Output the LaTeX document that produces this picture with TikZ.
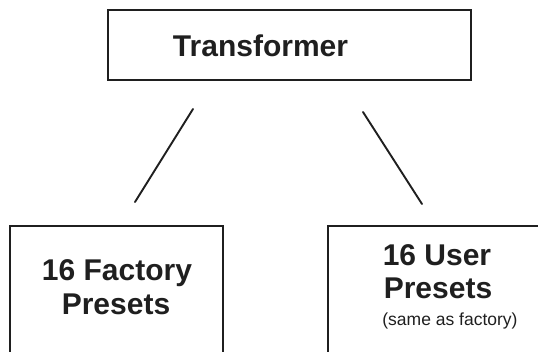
\documentclass[tikz,border=0pt]{standalone}
\usepackage{fontspec}
\setmainfont{Liberation Sans}
\begin{document}
\begin{tikzpicture}[x=1pt,y=-1pt,
  boxline/.style={draw=black!88, line width=2.6pt},
  conn/.style={draw=black!88, line width=1.9pt},
  bigtext/.style={font=\bfseries\fontsize{30}{34}\selectfont, inner sep=0pt, text=black!88},
  smalltext/.style={font=\fontsize{17.5}{20}\selectfont, inner sep=0pt, text=black!88}]
\useasboundingbox (0,0) rectangle (538,351);
% top box
\node[boxline, rectangle, minimum width=363pt, minimum height=70pt, inner sep=0pt] (top) at (289.5,45) {};
\node[bigtext, anchor=base] (ttxt) at (260.5,56.7) {Transformer};
% connectors
\coordinate (l1) at (193,109);
\coordinate (l2) at (135,202);
\coordinate (r1) at (363,112);
\coordinate (r2) at (422,204);
\draw[conn, line cap=round] (l1) -- (l2);
\draw[conn, line cap=round] (r1) -- (r2);
% bottom left box (open at bottom)
\coordinate (lb1) at (10,352);
\coordinate (lb2) at (10,226);
\coordinate (lb3) at (223,226);
\coordinate (lb4) at (223,352);
\draw[boxline] (lb1) -- (lb2) -- (lb3) -- (lb4);
\node[bigtext, anchor=base] (f1) at (117,280) {16 Factory};
\node[bigtext, anchor=base] (f2) at (116,314) {Presets};
% bottom right box (open at bottom and right)
\coordinate (rb1) at (328,352);
\coordinate (rb2) at (328,226);
\coordinate (rb3) at (540,226);
\draw[boxline] (rb1) -- (rb2) -- (rb3);
\node[bigtext, anchor=base] (u1) at (437,265) {16 User};
\node[bigtext, anchor=base] (u2) at (438,298) {Presets};
\node[smalltext, anchor=base] (u3) at (450,325) {(same as factory)};
\end{tikzpicture}
\end{document}
